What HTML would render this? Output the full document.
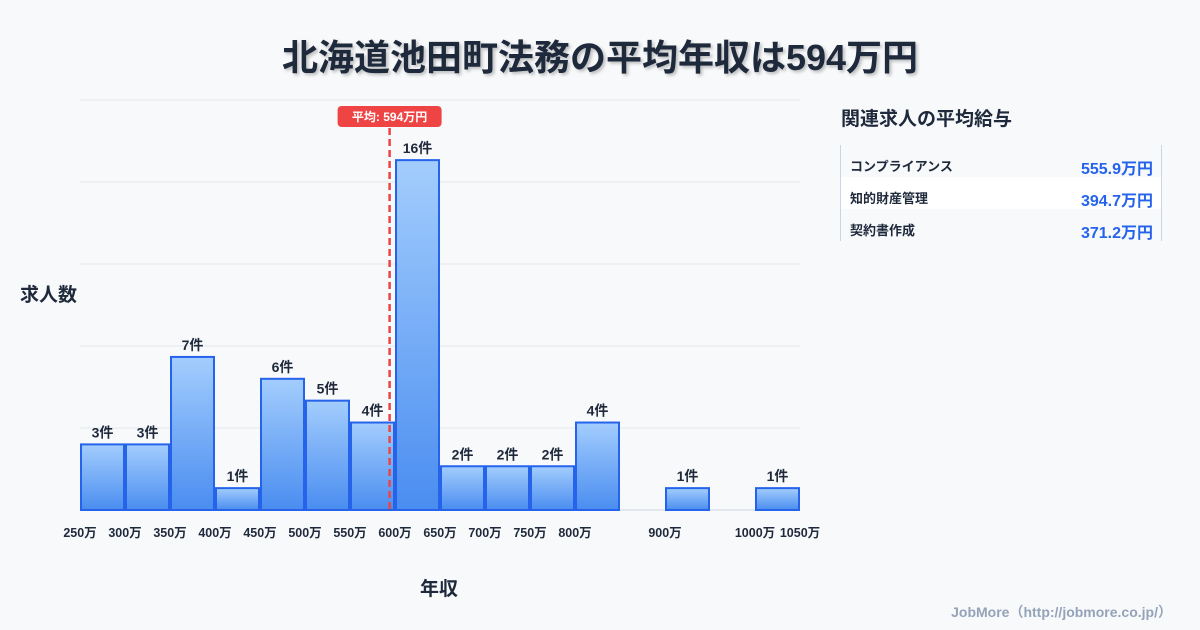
<!DOCTYPE html>
<html><head><meta charset="utf-8"><style>
body{margin:0;width:1200px;height:630px;background:#f8f9fb;font-family:"Liberation Sans","Noto Sans CJK JP",sans-serif;overflow:hidden;position:relative}
.t{position:absolute;white-space:nowrap}
</style></head><body>
<div class="t" style="left:0;width:1200px;top:29px;text-align:center;font-size:36px;font-weight:bold;color:#1e293b;text-shadow:2px 2px 3px rgba(0,0,0,0.25)">北海道池田町法務の平均年収は594万円</div>
<div class="t" style="left:20px;top:280px;font-size:19px;font-weight:bold;color:#1e293b">求人数</div>
<div class="t" style="left:420px;top:574px;font-size:19px;font-weight:bold;color:#1e293b">年収</div>
<svg id="chart" width="1200" height="630" style="position:absolute;left:0;top:0">
<defs><linearGradient id="g" x1="0" y1="0" x2="0" y2="1"><stop offset="0" stop-color="#a3cdfd"/><stop offset="1" stop-color="#4a8df0"/></linearGradient></defs>
</svg>
<div class="t" style="left:841px;top:104px;font-size:19px;font-weight:bold;color:#1e293b">関連求人の平均給与</div>
<div style="position:absolute;left:840px;top:145px;width:320px;height:96px;border-left:1px solid #cbd5e1;border-right:1px solid #cbd5e1">
<div style="position:absolute;left:0;top:0;width:320px;height:32px;background:#f8f9fb"><span class="t" style="left:9px;top:11px;font-size:13px;font-weight:bold;color:#1e293b">コンプライアンス</span><span class="t" style="right:8px;top:10px;font-size:16px;font-weight:bold;color:#2563eb">555.9万円</span></div>
<div style="position:absolute;left:0;top:32px;width:320px;height:32px;background:#fff"><span class="t" style="left:9px;top:11px;font-size:13px;font-weight:bold;color:#1e293b">知的財産管理</span><span class="t" style="right:8px;top:10px;font-size:16px;font-weight:bold;color:#2563eb">394.7万円</span></div>
<div style="position:absolute;left:0;top:64px;width:320px;height:32px;background:#f8f9fb"><span class="t" style="left:9px;top:11px;font-size:13px;font-weight:bold;color:#1e293b">契約書作成</span><span class="t" style="right:8px;top:10px;font-size:16px;font-weight:bold;color:#2563eb">371.2万円</span></div>
</div>
<div class="t" style="right:28px;top:602px;font-size:14px;font-weight:bold;color:#94a3b8">JobMore（http://jobmore.co.jp/）</div>
<script>
const binStarts=[250,300,350,400,450,500,550,600,650,700,750,800,900,1000];
const counts=[3,3,7,1,6,5,4,16,2,2,2,4,1,1];
const tickValues=[250,300,350,400,450,500,550,600,650,700,750,800,900,1000,1050];
const meanValue=594;
const binWidth=50;
const svg=document.getElementById('chart');
const NS='http://www.w3.org/2000/svg';
const x0=80,x1=800,yb=510,yt=100,xmin=250,xmax=1050,ymax=18.75;
const X=v=>x0+(v-xmin)/(xmax-xmin)*(x1-x0);
const Y=v=>yb-v/ymax*(yb-yt);
function mk(t,a){const e=document.createElementNS(NS,t);for(const k in a)e.setAttribute(k,a[k]);svg.appendChild(e);return e;}
for(let i=0;i<=5;i++){const y=yb-i*(yb-yt)/5;const l=mk('line',{x1:x0,x2:x1,y1:y,y2:y,stroke:i==0?'#cbd5e1':'#e5e7eb','stroke-width':1});

}
binStarts.forEach((b,i)=>{
const xa=X(b)+1,xb=X(b+binWidth)-1,y=Y(counts[i]);
const r=mk('rect',{x:xa,y:y,width:xb-xa,height:yb-y,fill:'url(#g)',stroke:'#2563eb','stroke-width':2});


const t=mk('text',{x:(xa+xb)/2,y:y-7,'text-anchor':'middle','font-size':14,'font-weight':'bold',fill:'#1e293b'});
t.textContent=counts[i]+'件';


});
tickValues.forEach(v=>{const t=mk('text',{x:X(v),y:537,'text-anchor':'middle','font-size':12.5,'font-weight':'bold',fill:'#1e293b'});
t.textContent=v+'万';

});
const mx=X(meanValue);
const ml=mk('line',{x1:mx,x2:mx,y1:128,y2:yb,stroke:'#ef4444','stroke-width':2.5,'stroke-dasharray':'7,4'});


const mr=mk('rect',{x:mx-52,y:106,width:104,height:21,rx:4,fill:'#ef4444'});


const mt=mk('text',{x:mx,y:121,'text-anchor':'middle','font-size':12,'font-weight':'bold',fill:'#fff'});
mt.textContent='平均: '+meanValue+'万円';


</script>
</body></html>
